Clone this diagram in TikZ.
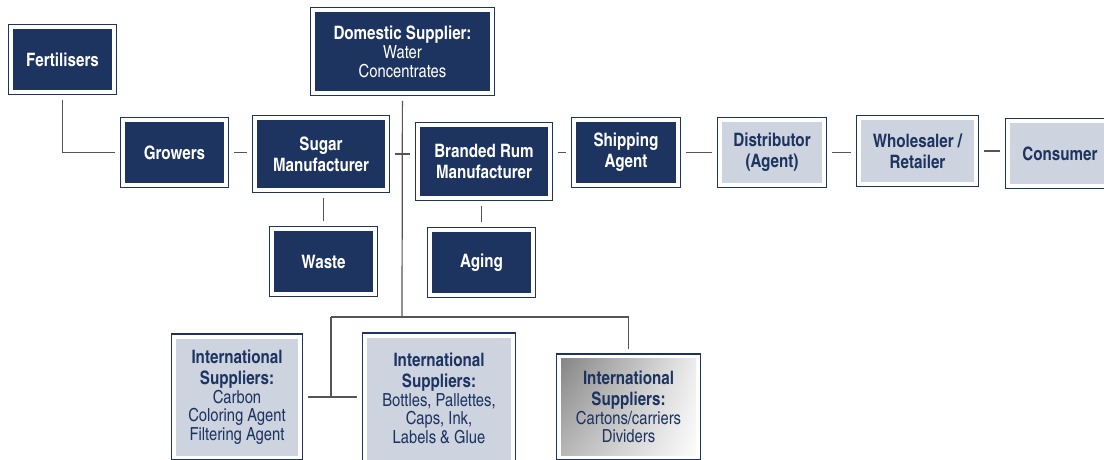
\documentclass[tikz,border=0pt]{standalone}
\usepackage{fontspec}
\setmainfont{texgyreheroscn}[Extension=.otf, UprightFont=*-regular, BoldFont=*-bold]
\usetikzlibrary{calc, shadings}
\definecolor{navy}{HTML}{1D3461}
\definecolor{paleblue}{HTML}{CDD3DF}
\definecolor{wire}{HTML}{555555}
\newcommand{\thinline}[1]{{\fontsize{18}{19}\selectfont\mdseries #1}}

\begin{document}
\begin{tikzpicture}[x=1pt, y=-1pt]
\tikzstyle{boxStyle}=[draw=navy, line width=1.5pt, fill=white, inner sep=0pt, align=center, font=\fontsize{18.5}{21}\selectfont\bfseries]
\tikzstyle{darkStyle}=[boxStyle, text=white, path picture={\fill[navy] ($(path picture bounding box.south west)+(4.5pt,4.5pt)$) rectangle ($(path picture bounding box.north east)-(4.5pt,4.5pt)$);}]
\tikzstyle{paleStyle}=[boxStyle, text=navy, path picture={\fill[paleblue] ($(path picture bounding box.south west)+(4.5pt,4.5pt)$) rectangle ($(path picture bounding box.north east)-(4.5pt,4.5pt)$);}]
\tikzstyle{greyStyle}=[boxStyle, text=navy, path picture={\shade[upper left=black!50, lower left=black!28, upper right=black!6, lower right=white] ($(path picture bounding box.south west)+(4.5pt,4.5pt)$) rectangle ($(path picture bounding box.north east)-(4.5pt,4.5pt)$);}]
\tikzstyle{linkStyle}=[draw=wire, line width=1.2pt, shorten <=4.5pt, shorten >=4.5pt]
\tikzstyle{wireStyle}=[draw=wire, line width=1.2pt]
\useasboundingbox (0,0) rectangle (1104,459);
\node[darkStyle, minimum width=108pt, minimum height=70pt] (fertilisers) at (62.5,59.5) {Fertilisers};
\node[darkStyle, minimum width=108pt, minimum height=70pt] (growers) at (174.5,152.5) {Growers};
\node[darkStyle, minimum width=137pt, minimum height=77pt] (sugar) at (321,154) {Sugar\\Manufacturer};
\node[darkStyle, minimum width=184pt, minimum height=88pt] (domestic) at (402.5,51.5) {Domestic Supplier:\\[-2pt]\thinline{Water}\\[-2pt]\thinline{Concentrates}};
\node[darkStyle, minimum width=137pt, minimum height=78pt] (rum) at (484,161.5) {Branded Rum\\Manufacturer};
\node[darkStyle, minimum width=109pt, minimum height=70pt] (shipping) at (626,152.5) {Shipping\\Agent};
\node[paleStyle, minimum width=109pt, minimum height=70pt] (distributor) at (772,152.5) {Distributor\\(Agent)};
\node[paleStyle, minimum width=122pt, minimum height=71pt] (wholesaler) at (917.5,151) {Wholesaler /\\Retailer};
\node[paleStyle, minimum width=109pt, minimum height=70pt] (consumer) at (1060,153.5) {Consumer};
\node[darkStyle, minimum width=108pt, minimum height=70pt] (waste) at (323.5,261.5) {Waste};
\node[darkStyle, minimum width=108pt, minimum height=70pt] (aging) at (481.5,262.5) {Aging};
\node[paleStyle, minimum width=131pt, minimum height=126pt] (carbon) at (237,397) {International\\Suppliers:\\[-2.5pt]\thinline{Carbon}\\[-2.5pt]\thinline{Coloring Agent}\\[-2.5pt]\thinline{Filtering Agent}};
\node[paleStyle, minimum width=153pt, minimum height=131pt] (bottles) at (439,398.5) {International\\Suppliers:\\[-2.5pt]\thinline{Bottles, Pallettes,}\\[-2.5pt]\thinline{Caps, Ink,}\\[-2.5pt]\thinline{Labels \& Glue}};
\node[greyStyle, minimum width=144pt, minimum height=106pt] (cartons) at (628.5,407) {International\\Suppliers:\\[-2.5pt]\thinline{Cartons/carriers}\\[-2.5pt]\thinline{Dividers}};
\coordinate (hub) at (402,317);
\coordinate (split) at (331,317);
\draw[linkStyle] (fertilisers) |- (growers);
\draw[linkStyle] (growers.east) -- (growers.east -| sugar.west);
\draw[linkStyle] (sugar.east) -- (sugar.east -| rum.west);
\draw[linkStyle] (shipping.west -| rum.east) -- (shipping.west);
\draw[linkStyle] (shipping.east) -- (shipping.east -| distributor.west);
\draw[linkStyle] (distributor.east) -- (distributor.east -| wholesaler.west);
\draw[linkStyle] (wholesaler.east) -- (wholesaler.east -| consumer.west);
\draw[linkStyle] (sugar.south -| waste) -- (waste);
\draw[linkStyle] (rum.south -| aging) -- (aging);
\draw[linkStyle, shorten >=0pt] (domestic) -- (hub);
\draw[linkStyle, shorten <=0pt] (split) -- (hub) -| (cartons);
\draw[wireStyle] (split) -- (split |- carbon.east);
\draw[linkStyle] (carbon.east) -- (carbon.east -| bottles.west);
\end{tikzpicture}
\end{document}
